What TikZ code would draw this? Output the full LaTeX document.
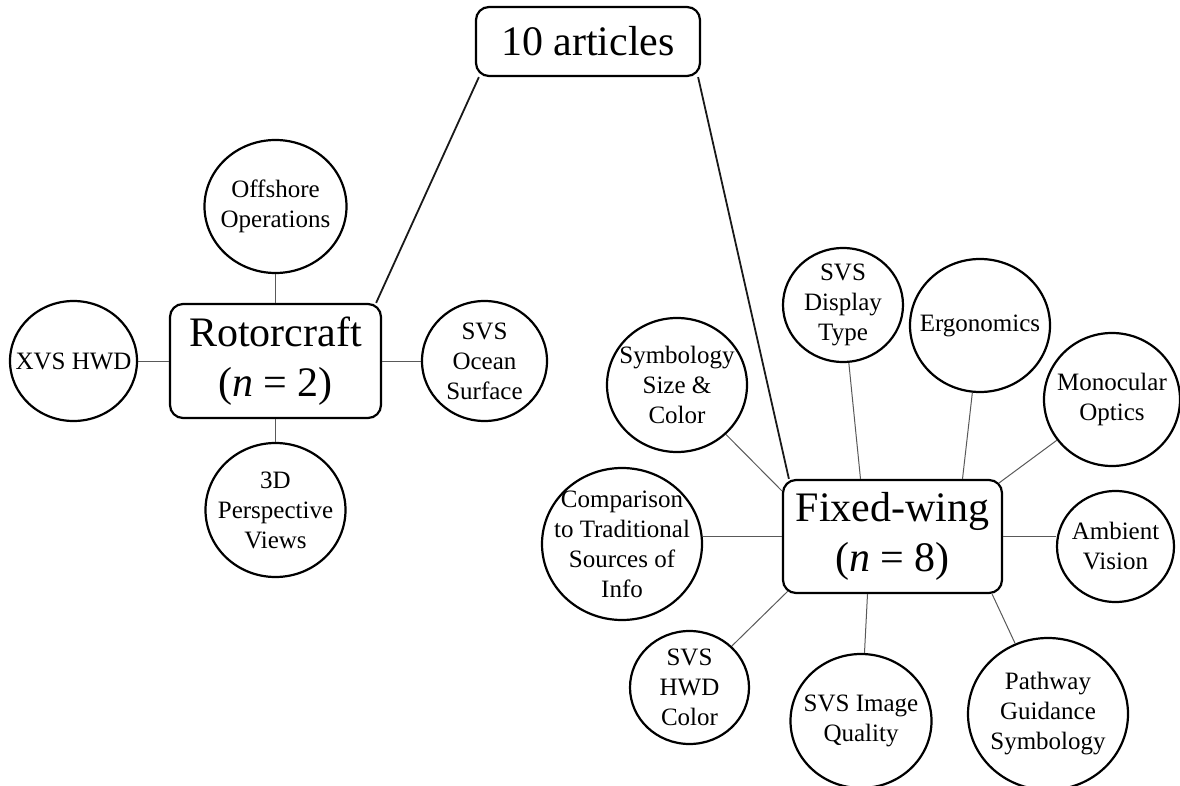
\documentclass[tikz,border=0pt]{standalone}
\usepackage{fontspec}
\setmainfont{Liberation Serif}
\usetikzlibrary{shapes.geometric}

\tikzset{
	topic/.style 2 args={draw=black, line width=2.2pt, ellipse, align=center, inner sep=-30pt,
		minimum width=#1, minimum height=#2, font=\fontsize{25}{30}\selectfont},
	group/.style={draw=black, line width=2.2pt, rounded corners=13pt, align=center,
		inner sep=0pt, font=\fontsize{42}{50}\selectfont},
	trunk/.style={draw=black!90, line width=1.8pt},
	spoke/.style={draw=black!65, line width=1pt}
}

\begin{document}
		\begin{tikzpicture}[x=1pt, y=-1pt]

			\useasboundingbox (0,0) rectangle (1180,786);

			\node[group, minimum width=224pt, minimum height=69pt] (art) at (588,41.5) {10 articles};

			% rotorcraft
			\node[group, minimum width=211pt, minimum height=114pt] (rotor) at (275.5,361) {Rotorcraft\\(\textit{n} = 2)};
			\node[topic={142pt}{133pt}] (off) at (275.5,206.5) {Offshore\\Operations};
			\node[topic={127pt}{120pt}] (xvs) at (73.5,361) {XVS HWD};
			\node[topic={125pt}{120pt}] (ocean) at (484.5,361) {SVS\\Ocean\\Surface};
			\node[topic={140pt}{134pt}] (persp) at (275.5,510) {3D\\Perspective\\Views};

			% fixed-wing
			\node[group, minimum width=219pt, minimum height=113pt] (fw) at (892.5,536.5) {Fixed-wing\\(\textit{n} = 8)};
			\node[topic={140pt}{134pt}] (sym) at (677,385) {Symbology\\Size \&\\Color};
			\node[topic={120pt}{114pt}] (disp) at (843,305) {SVS\\Display\\Type};
			\node[topic={140pt}{133pt}] (ergo) at (980,325.5) {Ergonomics};
			\node[topic={136pt}{133pt}] (mono) at (1112,399.5) {Monocular\\Optics};
			\node[topic={117pt}{111pt}] (amb) at (1115.5,546.5) {Ambient\\Vision};
			\node[topic={160pt}{152pt}] (path) at (1048,714) {Pathway\\Guidance\\Symbology};
			\node[topic={141pt}{134pt}] (qual) at (861,721) {SVS Image\\Quality};
			\node[topic={119pt}{113pt}] (hwdc) at (689.5,687.5) {SVS\\HWD\\Color};
			\node[topic={160pt}{152pt}] (comp) at (622,544) {Comparison\\to Traditional\\Sources of\\Info};

			% articles to groups
			\draw[trunk] ([xshift=4pt]art.south west) -- ([xshift=-6pt]rotor.north east);
			\draw[trunk] ([xshift=-3pt]art.south east) -- ([xshift=7pt]fw.north west);

			% rotorcraft spokes
			\foreach \t in {off,xvs,ocean,persp}
				\draw[spoke] (rotor) -- (\t);

			% fixed-wing spokes
			\draw[spoke] (sym) -- ([yshift=-12pt]fw.north west);
			\draw[spoke] (disp) -- ([xshift=-32pt]fw.north);
			\draw[spoke] (ergo) -- ([xshift=70pt]fw.north);
			\draw[spoke] (mono) -- ([xshift=-4pt,yshift=-4pt]fw.north east);
			\draw[spoke] (fw.east) -- (fw.east -| amb.west);
			\draw[spoke] (path) -- ([xshift=-11pt]fw.south east);
			\draw[spoke] (qual) -- ([xshift=-25pt]fw.south);
			\draw[spoke] (hwdc) -- ([xshift=6pt,yshift=3pt]fw.south west);
			\draw[spoke] (fw.west) -- (fw.west -| comp.east);

		\end{tikzpicture}
\end{document}
